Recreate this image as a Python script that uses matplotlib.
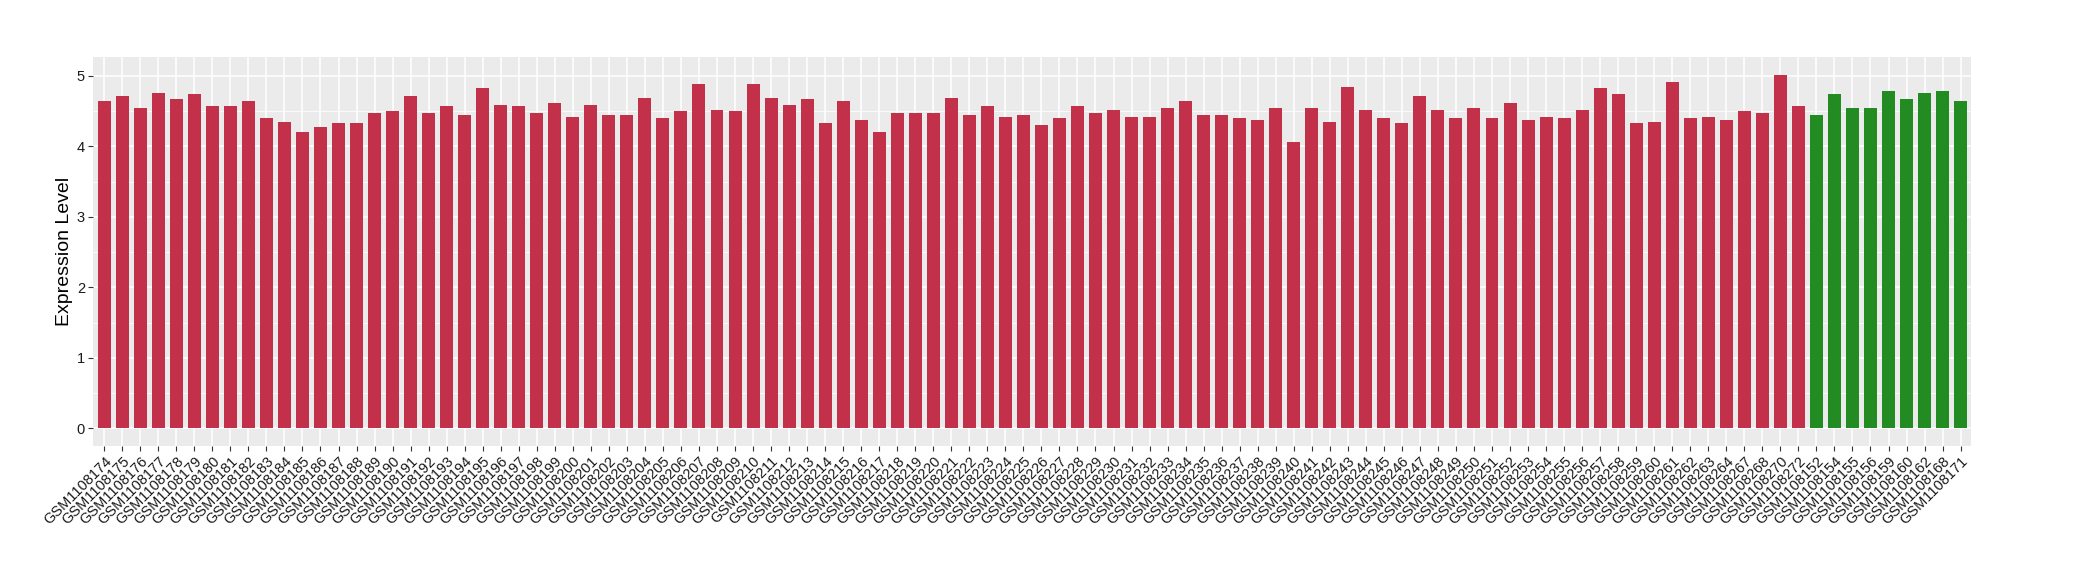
import matplotlib
matplotlib.use("Agg")
import matplotlib.pyplot as plt
import numpy as np

# -----------------------------
# Data
# -----------------------------
red_ids = list(range(1108174, 1108265)) + [1108267, 1108268, 1108270, 1108272]
red_values = [
    4.64, 4.71, 4.55, 4.76, 4.67, 4.75, 4.57, 4.57, 4.64, 4.41,
    4.34, 4.20, 4.27, 4.33, 4.33, 4.47, 4.50, 4.71, 4.47, 4.57,
    4.45, 4.83, 4.59, 4.58, 4.47, 4.61, 4.42, 4.59, 4.44, 4.45,
    4.69, 4.40, 4.50, 4.88, 4.52, 4.50, 4.88, 4.68, 4.59, 4.67,
    4.33, 4.64, 4.38, 4.20, 4.48, 4.47, 4.47, 4.68, 4.45, 4.57,
    4.42, 4.44, 4.31, 4.41, 4.58, 4.47, 4.51, 4.42, 4.42, 4.54,
    4.65, 4.45, 4.45, 4.40, 4.37, 4.54, 4.06, 4.54, 4.34, 4.85,
    4.52, 4.41, 4.33, 4.71, 4.52, 4.41, 4.54, 4.41, 4.62, 4.37,
    4.42, 4.41, 4.52, 4.83, 4.75, 4.33, 4.35, 4.92, 4.41, 4.42,
    4.37, 4.50, 4.47, 5.02, 4.58,
]
green_ids = [1108152, 1108154, 1108155, 1108156, 1108159, 1108160, 1108162, 1108168, 1108171]
green_values = [4.45, 4.74, 4.55, 4.54, 4.79, 4.67, 4.76, 4.79, 4.65]

RED = "#C3304A"
GREEN = "#228B22"

labels = ["GSM%d" % i for i in red_ids + green_ids]
values = red_values + green_values
colors = [RED] * len(red_values) + [GREEN] * len(green_values)
x = np.arange(len(labels))

# -----------------------------
# Plot (ggplot2 theme_grey look)
# -----------------------------
plt.rcParams["font.family"] = ["Liberation Sans", "DejaVu Sans"]

fig = plt.figure(figsize=(20.8, 5.8), dpi=100)
ax = fig.add_axes([0.0449, 0.231, 0.9029, 0.671])
ax.set_facecolor("#EBEBEB")

ax.bar(x, values, width=0.72, color=colors, zorder=3)

ax.set_xlim(-0.6, len(labels) - 0.4)
ax.set_ylim(-0.251, 5.271)

ax.set_yticks(range(6))
ax.set_yticks(np.arange(0.5, 5.5, 1.0), minor=True)
ax.set_xticks(x)
ax.set_xticklabels(labels, rotation=45, ha="right", va="top",
                   rotation_mode="anchor", fontsize=10.5, color="#1A1A1A")
ax.tick_params(axis="y", labelsize=10.5, labelcolor="#1A1A1A")
ax.tick_params(which="major", length=3.5, width=0.8, color="#333333", pad=2.5)
ax.tick_params(which="minor", length=0)

ax.grid(which="major", color="white", linewidth=1.1, zorder=0)
ax.grid(which="minor", axis="y", color="white", linewidth=0.55, zorder=0)
ax.set_axisbelow(True)
for s in ax.spines.values():
    s.set_visible(False)

ax.set_ylabel("Expression Level", fontsize=14, labelpad=3, color="black")

fig.savefig("out.png", dpi=100)
